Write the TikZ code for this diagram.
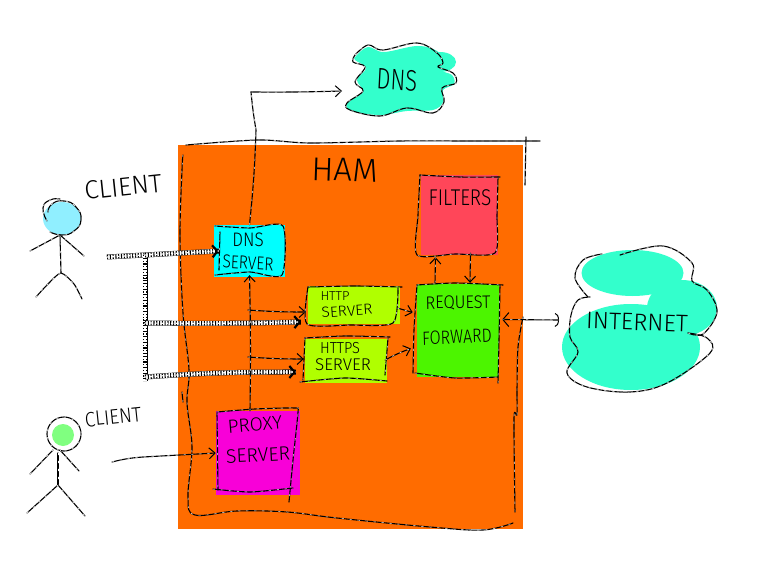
\documentclass[tikz,border=0pt]{standalone}
\usepackage{fontspec}
\setmainfont{Fira Sans Light}
\usetikzlibrary{arrows.meta,calc,shapes.geometric}
\definecolor{hamorange}{HTML}{FF6C00}
\definecolor{dnscyan}{HTML}{00FFFF}
\definecolor{filterred}{HTML}{FF4659}
\definecolor{srvlime}{HTML}{B0FF00}
\definecolor{reqgreen}{HTML}{4CF500}
\definecolor{proxymag}{HTML}{F800D8}
\definecolor{cloudteal}{HTML}{33FFCC}
\definecolor{headblue}{HTML}{90EFFF}
\definecolor{headgreen}{HTML}{80FF80}
\tikzset{
  sk/.style={black,line width=1.1pt,line cap=round,line join=round,
    postaction={draw=white,line width=.45pt,dash pattern=on 2pt off 6pt,-}},
  fat/.style={white,line width=4.4pt,line cap=butt,
    preaction={draw=black,line width=5pt,-},
    postaction={draw=black,line width=4.4pt,dash pattern=on 1.1pt off 1.7pt,-},
    postaction={draw=white,line width=1.2pt,dash pattern=on 2.3pt off 2.9pt,-}},
  fathead/.style={-{Straight Barb[length=5pt,width=12pt,line width=2.2pt,black]}},
  thinhead/.style={-{Straight Barb[length=6pt,width=11pt,line width=1pt]}},
  box/.style={draw=none,inner sep=0pt,rectangle},
  hw/.style={inner sep=0pt,text=black,font=\fontsize{#1}{#1}\selectfont}
}
\begin{document}
\begin{tikzpicture}[x=1pt,y=-1pt]
\useasboundingbox (0,0) rectangle (773,577);
\fill[white] (0,0) rectangle (773,577);

% filled shapes
\node[box,fill=hamorange,minimum width=345pt,minimum height=384pt] (ham) at (350.5,337) {};
\node[box,fill=dnscyan,minimum width=71pt,minimum height=52pt] (dnssrv) at (249.5,251) {};
\node[box,fill=filterred,minimum width=77pt,minimum height=80pt] (filters) at (459.5,215) {};
\node[box,fill=srvlime,minimum width=92pt,minimum height=38pt] (http) at (354,305) {};
\node[box,fill=srvlime,minimum width=82pt,minimum height=44pt] (https) at (346,361) {};
\node[box,fill=reqgreen,minimum width=82pt,minimum height=93pt] (request) at (458,330.5) {};
\node[box,fill=proxymag,minimum width=84pt,minimum height=84pt] (proxy) at (258,453) {};

% clouds
\fill[cloudteal] plot[smooth cycle,tension=.6] coordinates {(356,56) (368,47) (384,52) (417,46) (437,51) (447,63) (440,70) (452,75) (454,84) (443,90) (443,102) (433,110) (407,111) (380,115) (352,111) (347,103) (363,92) (357,80) (366,68) (355,60)};
\fill[cloudteal] (440,62) ellipse [x radius=16,y radius=10];
\fill[cloudteal] (632.5,273) ellipse [x radius=51,y radius=23];
\fill[cloudteal] (682,308) ellipse [x radius=35,y radius=28];
\fill[cloudteal] (631,347) ellipse [x radius=69,y radius=43];

% heads
\node[ellipse,inner sep=0pt,fill=headblue,minimum width=38pt,minimum height=33pt,draw=none] (headA) at (62,218.5) {};
\node[circle,inner sep=0pt,fill=headgreen,minimum size=22pt] (headB) at (63,435) {};

% outlines
\draw[sk] plot[smooth,tension=.5] coordinates {(186,145) (258,140) (310,143) (400,141) (470,141) (540,141)};
\draw[sk] plot[smooth,tension=.5] coordinates {(526,137) (525,185)};
\draw[sk] plot[smooth,tension=.5] coordinates {(523,317) (518,347) (517,390) (517,415) (514,418) (515,512)};
\draw[sk] plot[smooth,tension=.6] coordinates {(183,155) (182,170) (180,237) (183,313) (189,370) (187,403) (192,447) (188,497) (195,515) (237,511) (287,512) (337,518) (430,527) (483,530) (513,523)};
\draw[sk] (182,392) -- (183,402);

\draw[sk] plot[smooth,tension=.4] coordinates {(215,226) (250,228) (283,226) (282,275) (250,272) (215,275)};
\draw[sk] (220,232) -- (219,270);
\draw[sk] plot[smooth,tension=.4] coordinates {(420,175) (460,177) (500,177)};
\draw[sk] plot[smooth,tension=.4] coordinates {(498,177) (497,215) (495,253) (455,254) (417,255) (418,215) (420,175)};
\draw[sk] plot[smooth,tension=.4] coordinates {(308,287) (355,286) (402,287)};
\draw[sk] plot[smooth,tension=.4] coordinates {(398,288) (393,323) (350,325) (307,324) (308,287)};
\draw[sk] plot[smooth,tension=.4] coordinates {(305,338) (345,336) (390,337)};
\draw[sk] plot[smooth,tension=.4] coordinates {(388,338) (385,375)};
\draw[sk] plot[smooth,tension=.4] coordinates {(300,382) (345,378) (387,381)};
\draw[sk] (305,338) -- (303,380);
\draw[sk] plot[smooth,tension=.4] coordinates {(417,285) (455,283) (503,285)};
\draw[sk] plot[smooth,tension=.4] coordinates {(500,285) (499,340) (498,383)};
\draw[sk] plot[smooth,tension=.4] coordinates {(415,373) (455,378) (498,377)};
\draw[sk] plot[smooth,tension=.4] coordinates {(417,285) (414,330) (413,373)};
\draw[sk] plot[smooth,tension=.4] coordinates {(217,412) (255,409) (295,408) (298,412) (293,460) (289,502)};
\draw[sk] plot[smooth,tension=.4] coordinates {(213,489) (250,492) (293,488)};
\draw[sk] (217,413) -- (218,490);

% cloud outlines
\draw[sk] plot[smooth,tension=.6] coordinates {(355,55) (368,45) (383,50) (417,43) (437,53) (443,63) (438,67) (453,73) (456,83) (442,88) (444,102) (433,113) (407,108) (380,116) (350,110) (347,103) (363,91) (355,82) (365,67) (353,62) (355,55)};
\draw[sk] plot[smooth,tension=.6] coordinates {(602,254) (583,260) (575,278) (588,297)};
\draw[sk] plot[smooth,tension=.6] coordinates {(590,297) (578,300) (571,315) (570,337) (578,352) (567,373) (587,387) (630,392) (667,383) (710,353) (707,338) (688,333)};
\draw[sk] plot[smooth,tension=.6] coordinates {(688,333) (703,334) (717,312) (707,290) (692,281) (692,263) (663,246) (620,255)};

% stick figures
\draw[sk] plot[smooth,tension=.9] coordinates {(48,212) (52,204) (64,201) (76,207) (81,220) (74,231) (62,235) (50,232)};
\draw[sk] plot[smooth,tension=.9] coordinates {(47,221) (43,208) (50,200) (60,199)};
\draw[sk] (30,251) -- (60,235) -- (84,256);
\draw[sk] (60,235) -- (61,273);
\draw[sk] plot[smooth,tension=.4] coordinates {(36,297) (48,284) (61,273) (74,284) (82,299)};
\draw[sk] (64,434) circle [radius=17];
\draw[sk] (30,474) -- (53,450);
\draw[sk] (60,450) -- (79,471);
\draw[sk] (58,453) -- (58,485);
\draw[sk] (27,513) -- (58,485) -- (85,516);

% connectors
\coordinate (fatstart) at (107,257);
\coordinate (j1) at (145,255);
\coordinate (j2) at (145,323);
\coordinate (j3) at (145,377);
\coordinate (j4) at (145,381);
\coordinate (thinj1) at (248,310);
\coordinate (thinj2) at (248,357);
\coordinate (dnscorner) at (251,92);
\coordinate (dnsbend) at (256,130);
\coordinate (proxystart) at (112,462);
\coordinate (proxybend) at (143,457);
\coordinate (dnsin) at (342,91);
\coordinate (netin) at (559,320);

\draw[fat] (fatstart) -- (j1);
\draw[fat] (j1) -- (j2) -- (j4);
\draw[fat,fathead] (j1) -- ([xshift=5pt]dnssrv.west);
\draw[fat,fathead] (j2) to[bend right=1] ([shift={(-7,17)}]http.west);
\draw[fat,fathead] (j3) to[bend left=2] ([shift={(-9,11)}]https.west);

\draw[sk,thinhead] ([xshift=-8pt]proxy.north) to[bend right=1] ([yshift=2pt]dnssrv.south);
\draw[sk,thinhead] (thinj1) to[bend right=2] ([shift={(-2,7)}]http.west);
\draw[sk,thinhead] (thinj2) to[bend right=2] ([shift={(-1,-2)}]https.west);
\draw[sk,thinhead] ([shift={(-3,3)}]http.east) -- ([shift={(-4,-18)}]request.west);
\draw[sk,thinhead] ([shift={(-2,-1)}]https.east) to[bend left=4] ([shift={(-6,18)}]request.west);
\draw[sk,thinhead] ([shift={(-23,-1)}]request.north) -- ([shift={(-24,2)}]filters.south);
\draw[sk,thinhead] ([shift={(11,-2)}]filters.south) -- ([shift={(12,-1)}]request.north);
\draw[sk] (dnssrv.north) to[bend right=2] (dnsbend) to[bend left=2] (dnscorner);
\draw[sk,thinhead] (dnscorner) to[bend right=1] (dnsin);
\draw[sk,{Straight Barb[length=6pt,width=14pt,line width=1pt]}-{Arc Barb[length=4pt,width=14pt,line width=1pt]}] ([shift={(3,-11)}]request.east) -- (netin);
\draw[sk,thinhead] (proxystart) to[bend left=5] (proxybend) -- (proxy.west);

% texts
\node[hw=33,rotate=-2] (hamt) at (345,170) {HAM};
\node[hw=26,rotate=6] (clientA) at (123,187) {CLIENT};
\node[hw=19,rotate=6,yscale=1.1] (clientB) at (113,417) {CLIENT};
\node[hw=22,yscale=1.35,rotate=-4] (dnst) at (397,80) {DNS};
\node[hw=17,yscale=1.15] (t1) at (248,240) {DNS};
\node[hw=15.5,yscale=1.2,rotate=-3] (t2) at (248,263) {SERVER};
\node[hw=19,yscale=1.2] (t3) at (460,198) {FILTERS};
\node[hw=13,yscale=1] (t4) at (335,296) {HTTP};
\node[hw=15.5,yscale=.95,rotate=4] (t5) at (347,311) {SERVER};
\node[hw=14.5,yscale=1.1] (t6) at (340,348) {HTTPS};
\node[hw=17,yscale=1] (t7) at (343,365) {SERVER};
\node[hw=16.5,yscale=1.1,rotate=1] (t8) at (458,303) {REQUEST};
\node[hw=16,yscale=1.2,rotate=2] (t9) at (457,337) {FORWARD};
\node[hw=19,rotate=5] (t10) at (255,425) {PROXY};
\node[hw=19.5,rotate=3] (t11) at (258,455) {SERVER};
\node[hw=24,rotate=-2] (internet) at (637,322) {INTERNET};
\end{tikzpicture}
\end{document}
